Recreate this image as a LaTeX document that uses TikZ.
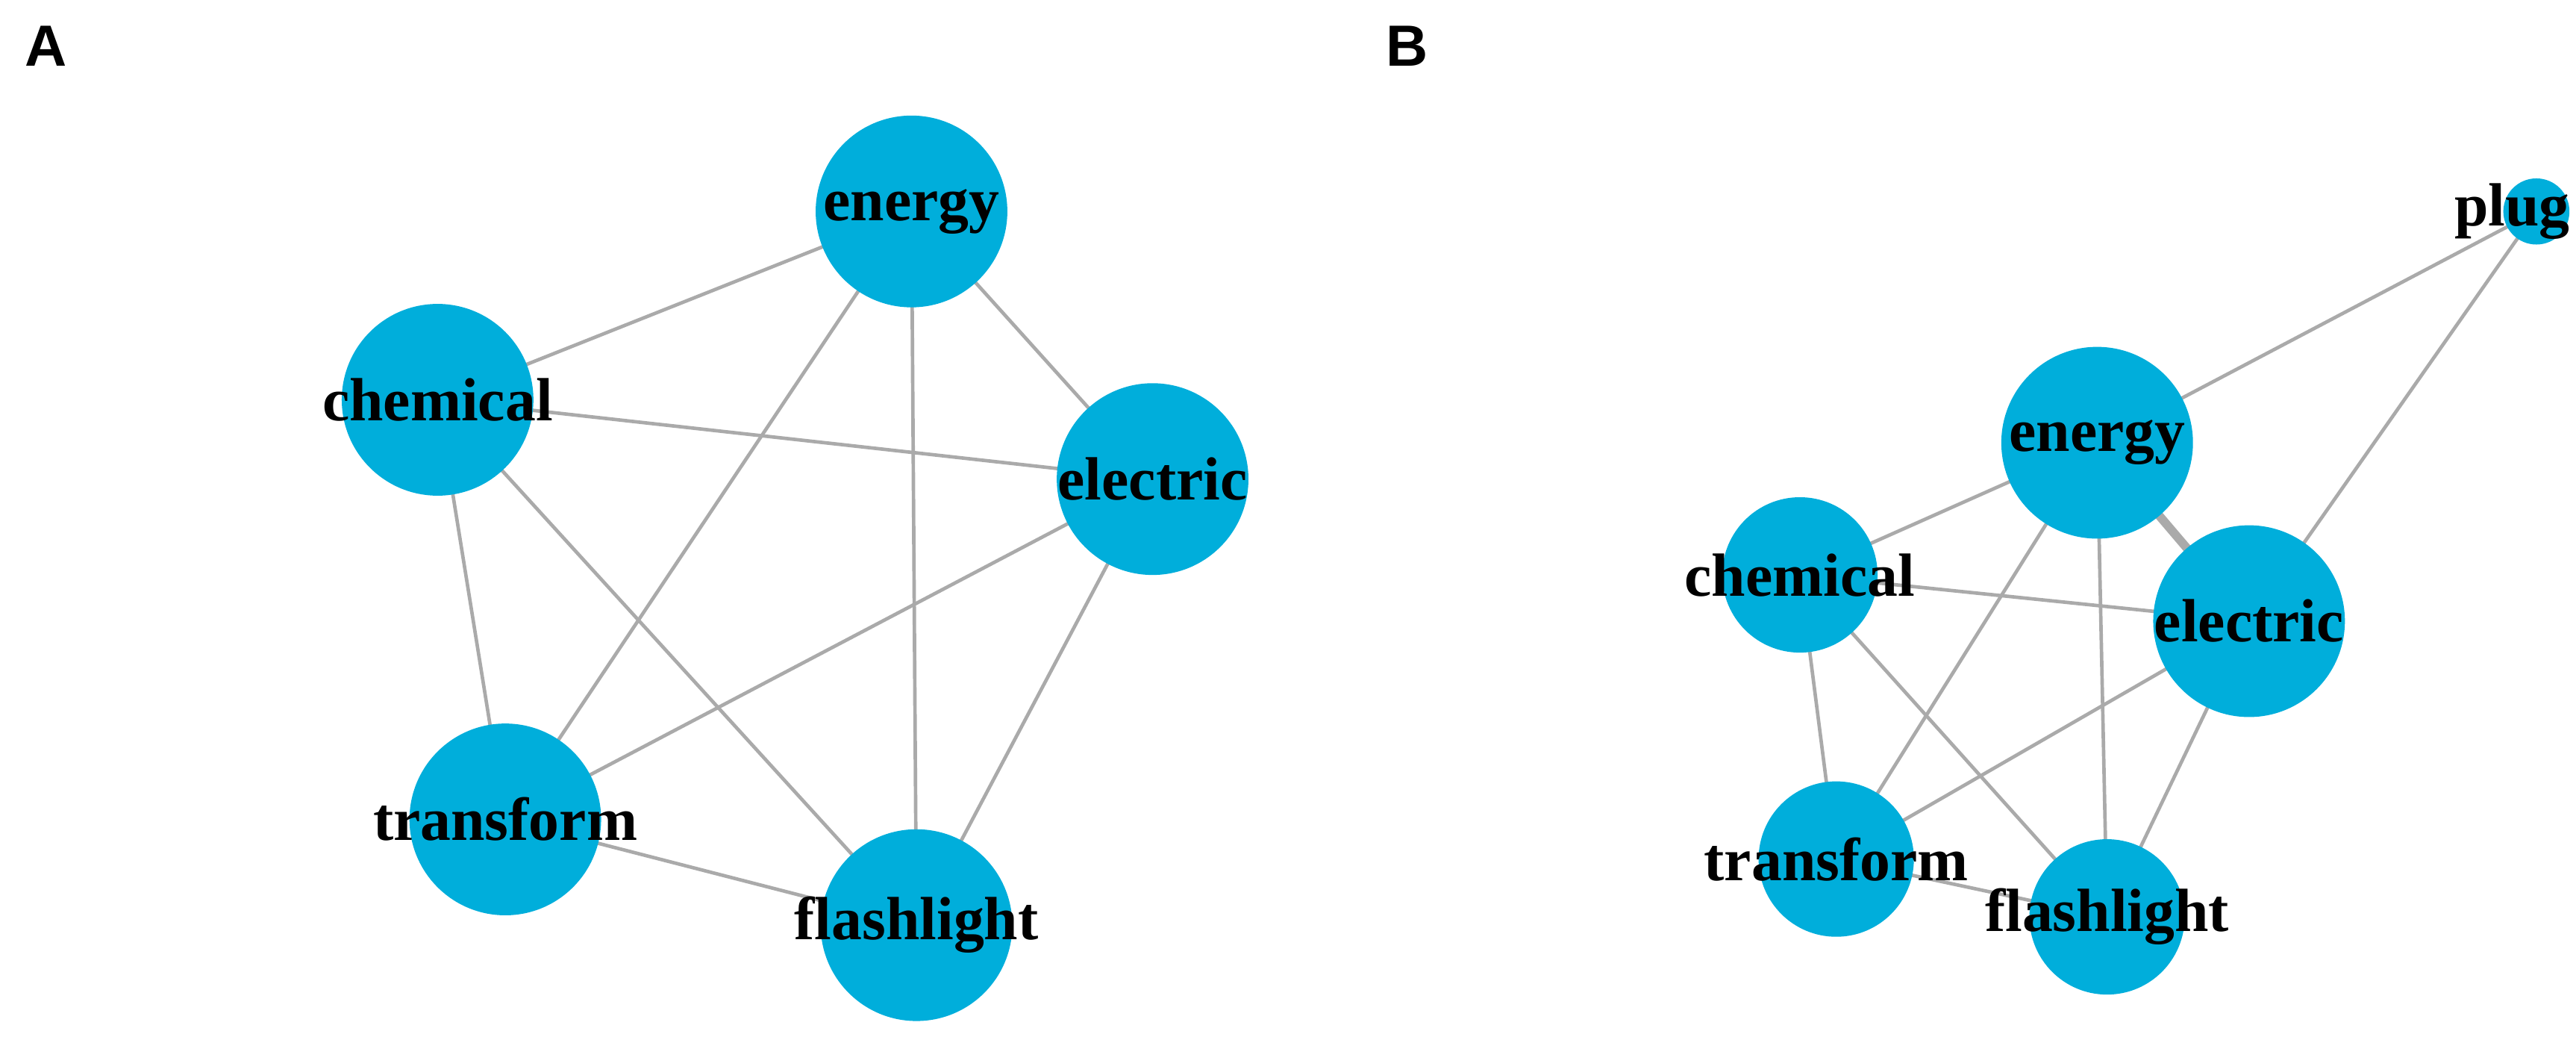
\documentclass[tikz,border=0pt]{standalone}
\usepackage{fontspec}
\setmainfont{Liberation Serif}
\newfontfamily\panelfont{Liberation Sans}
\usetikzlibrary{backgrounds}
\definecolor{nodeblue}{RGB}{0,174,219}
\definecolor{edgegray}{RGB}{170,170,170}

\begin{document}
\begin{tikzpicture}[
    x=0.01cm, y=-0.01cm,
    disc/.style={circle, fill=nodeblue, inner sep=0pt},
    big/.style={disc, minimum size=1.16cm},
    mid/.style={disc, minimum size=0.94cm},
    tiny/.style={disc, minimum size=0.40cm},
    word/.style={inner sep=0pt, font=\fontsize{10.5}{12}\selectfont\bfseries},
    link/.style={draw=edgegray, line width=0.6pt},
    panel/.style={font=\panelfont\fontsize{10}{12}\selectfont\bfseries}
]
    \useasboundingbox (0,0) rectangle (1560,627.5);
    % panel A
    \node[panel] (labA) at (28,28) {A};
    \node[big] (energyA) at (552,128) {};
    \node[big] (chemicalA) at (265,242) {};
    \node[big] (electricA) at (698,290) {};
    \node[big] (transformA) at (306,496) {};
    \node[big] (flashlightA) at (555,560) {};
    % panel B
    \node[panel] (labB) at (852,28) {B};
    \node[tiny] (plugB) at (1536,128) {};
    \node[big] (energyB) at (1270,268) {};
    \node[mid] (chemicalB) at (1090,348) {};
    \node[big] (electricB) at (1362,376) {};
    \node[mid] (transformB) at (1112,520) {};
    \node[mid] (flashlightB) at (1276,555) {};
    % labels on top
    \foreach \p in {A,B} {
        \node[word] at (energy\p) {energy};
        \node[word] at (chemical\p) {chemical};
        \node[word] at (electric\p) {electric};
        \node[word] at (transform\p) {transform};
        \node[word] at (flashlight\p) {flashlight};
    }
    \node[word, anchor=east] at (1557,128) {plug};

    \begin{scope}[on background layer]
        \foreach \p in {A,B} {
            \draw[link] (energy\p.center) -- (chemical\p.center);
            \draw[link] (energy\p.center) -- (transform\p.center);
            \draw[link] (energy\p.center) -- (flashlight\p.center);
            \draw[link] (chemical\p.center) -- (electric\p.center);
            \draw[link] (chemical\p.center) -- (transform\p.center);
            \draw[link] (chemical\p.center) -- (flashlight\p.center);
            \draw[link] (electric\p.center) -- (transform\p.center);
            \draw[link] (electric\p.center) -- (flashlight\p.center);
            \draw[link] (transform\p.center) -- (flashlight\p.center);
        }
        \draw[link] (energyA.center) -- (electricA.center);
        \draw[link, line width=1.5pt] (energyB.center) -- (electricB.center);
        \draw[link] (plugB.center) -- (energyB.center);
        \draw[link] (plugB.center) -- (electricB.center);
    \end{scope}
\end{tikzpicture}
\end{document}
